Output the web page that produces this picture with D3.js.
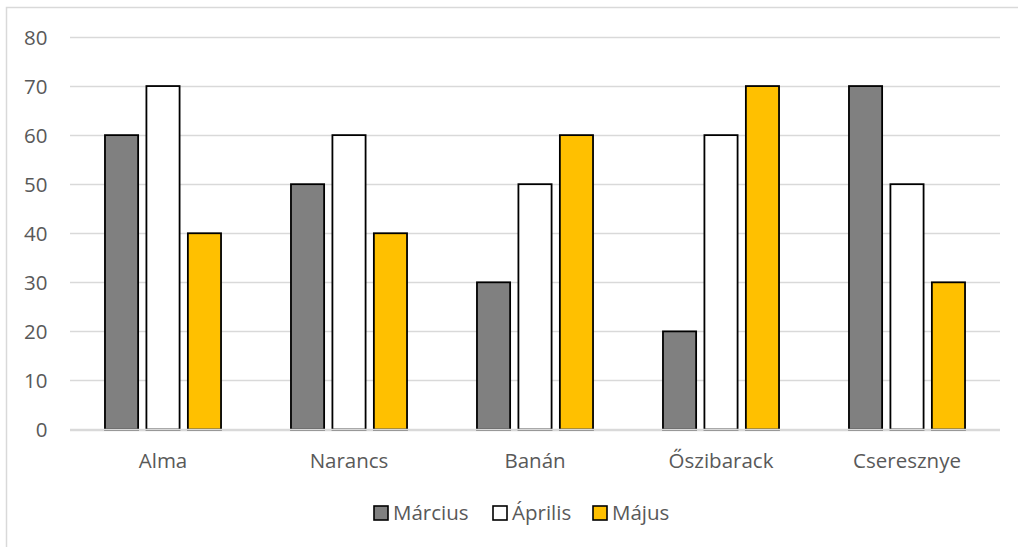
<!DOCTYPE html>
<html>
<head>
<meta charset="utf-8">
<script src="https://cdn.jsdelivr.net/npm/d3@7"></script>
<style>
  html, body { margin: 0; padding: 0; background: #fff; }
  svg { display: block; }
  text { font-family: "Open Sans", sans-serif; fill: #595959; }
</style>
</head>
<body>
<svg id="chart" width="1018" height="547"></svg>
<script>
// Fruit sales by month
const categories = ["Alma", "Narancs", "Banán", "Őszibarack", "Cseresznye"];
const seriesNames = ["Március", "Április", "Május"];
const marciusValues = [60, 50, 30, 20, 70];
const aprilisValues = [70, 60, 50, 60, 50];
const majusValues = [40, 40, 60, 70, 30];
const yTicks = [0, 10, 20, 30, 40, 50, 60, 70, 80];

const seriesValues = [marciusValues, aprilisValues, majusValues];
const seriesColors = ["#808080", "#ffffff", "#ffc000"];

const svg = d3.select("#chart");
const W = 1018, H = 547;
const plot = { left: 70, right: 1000, top: 37, bottom: 429.5 };
const fontSize = 20.5;

// chart area frame (extends past the window on right and bottom)
svg.append("rect")
  .attr("x", 6.5).attr("y", 7.5)
  .attr("width", W + 10).attr("height", H + 10)
  .attr("fill", "#fff").attr("stroke", "#d9d9d9").attr("stroke-width", 1.5);

const y = d3.scaleLinear().domain([0, 80]).range([plot.bottom, plot.top]);

const x0 = d3.scaleBand()
  .domain(categories)
  .range([plot.left, plot.right])
  .paddingInner(0.376)
  .paddingOuter(0.188);

const x1 = d3.scaleBand()
  .domain(seriesNames)
  .range([0, x0.bandwidth()])
  .paddingInner(0.2)
  .paddingOuter(0);

// gridlines
svg.append("g")
  .selectAll("line")
  .data(yTicks)
  .join("line")
  .attr("x1", plot.left).attr("x2", plot.right)
  .attr("y1", d => Math.round(y(d)) + 0.5)
  .attr("y2", d => Math.round(y(d)) + 0.5)
  .attr("stroke", "#d9d9d9").attr("stroke-width", 1.3);

// y axis labels
const yAxis = d3.axisLeft(y).tickValues(yTicks).tickSize(0).tickPadding(0);
svg.append("g")
  .attr("transform", `translate(47.5,0)`)
  .call(yAxis)
  .call(g => g.select(".domain").remove())
  .call(g => g.selectAll("text")
    .attr("x", 0)
    .attr("text-anchor", "end")
    .attr("font-size", fontSize)
    .attr("font-family", "Open Sans, sans-serif")
    .attr("fill", "#595959")
    .attr("dy", "0.36em"));

// bars
const groups = svg.append("g")
  .selectAll("g")
  .data(categories)
  .join("g")
  .attr("transform", d => `translate(${x0(d)},0)`);

groups.selectAll("rect")
  .data((cat, ci) => seriesNames.map((s, si) => ({ s, si, v: seriesValues[si][ci] })))
  .join("rect")
  .attr("x", d => x1(d.s))
  .attr("y", d => y(d.v))
  .attr("width", x1.bandwidth())
  .attr("height", d => y(0) - y(d.v))
  .attr("fill", d => seriesColors[d.si])
  .attr("stroke", "#000")
  .attr("stroke-width", 1.8);

// baseline
svg.append("line")
  .attr("x1", plot.left).attr("x2", plot.right)
  .attr("y1", plot.bottom).attr("y2", plot.bottom)
  .attr("stroke", "#d9d9d9").attr("stroke-width", 1.5);

// category labels
const xAxis = d3.axisBottom(x0).tickSize(0).tickPadding(0);
svg.append("g")
  .attr("transform", `translate(0,${plot.bottom + 31})`)
  .call(xAxis)
  .call(g => g.select(".domain").remove())
  .call(g => g.selectAll("text")
    .attr("font-size", fontSize)
    .attr("font-family", "Open Sans, sans-serif")
    .attr("fill", "#595959")
    .attr("dy", "0.35em"));

// legend
const legendItems = [
  { name: seriesNames[0], color: seriesColors[0], x: 374 },
  { name: seriesNames[1], color: seriesColors[1], x: 493 },
  { name: seriesNames[2], color: seriesColors[2], x: 593 }
];
const legend = svg.append("g");
const li = legend.selectAll("g").data(legendItems).join("g")
  .attr("transform", d => `translate(${d.x},513)`);
li.append("rect")
  .attr("x", 0).attr("y", -7)
  .attr("width", 14).attr("height", 14)
  .attr("fill", d => d.color)
  .attr("stroke", "#000").attr("stroke-width", 1.6);
li.append("text")
  .attr("x", 19).attr("y", 0).attr("dy", "0.35em")
  .attr("font-size", fontSize)
  .text(d => d.name);
</script>
</body>
</html>
